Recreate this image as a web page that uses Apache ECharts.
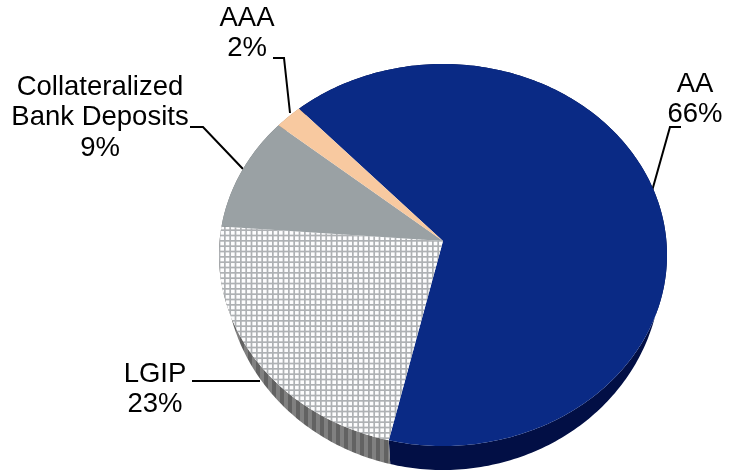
<!DOCTYPE html>
<html>
<head>
<meta charset="utf-8">
<style>
  html, body { margin: 0; padding: 0; background: #fff; }
  #chart { width: 739px; height: 472px; }
</style>
</head>
<body>
<div id="chart"></div>
<script src="https://cdn.jsdelivr.net/npm/echarts@6/dist/echarts.min.js"></script>
<script>
// clockwise from the AA slice
const categories = ['AA', 'LGIP', 'Collateralized Bank Deposits', 'AAA']
const percents = [66, 23, 9, 2] // printed labels
const visibleShare = [65, 23.5, 9.5, 2] // share of the rim each slice takes up in the picture
const faceColors = ['#0a2a85', null, '#9aa1a4', '#f8c9a0']
const wallColors = ['#020f45', null, '#6c7072', '#b08c70']

// pie geometry (tilted disc, the apex sits above the ellipse centre)
const startAngle = -40
const face = { cx: 443, cy: 255, rx: 224, ry: 191 }
const base = { cx: 443, cy: 270, rx: 218, ry: 200 }
const apex = [443, 241]

function rimPoint(e, deg) {
  const t = deg * Math.PI / 180
  return [e.cx + e.rx * Math.sin(t), e.cy - e.ry * Math.cos(t)]
}

function sliceRange(index) {
  let from = startAngle
  for (let i = 0; i < index; i++) from += visibleShare[i] * 3.6
  return [from, from + visibleShare[index] * 3.6]
}

function rimPoints(e, from, to) {
  const pts = []
  for (let a = from; a <= to; a += 1) pts.push(rimPoint(e, a))
  pts.push(rimPoint(e, to))
  return pts
}

// 方格图案 for the LGIP slice
function gridPattern(line, bg) {
  const c = document.createElement('canvas')
  c.width = 16
  c.height = 16
  const ctx = c.getContext('2d')
  ctx.fillStyle = bg
  ctx.fillRect(0, 0, 16, 16)
  ctx.fillStyle = line
  ;[0, 5.33, 10.67].forEach((p) => {
    ctx.fillRect(p, 0, 1.7, 16)
    ctx.fillRect(0, p, 16, 1.7)
  })
  return { image: c, repeat: 'repeat' }
}

function wallStripes() {
  const c = document.createElement('canvas')
  c.width = 8
  c.height = 4
  const ctx = c.getContext('2d')
  ctx.fillStyle = '#808080'
  ctx.fillRect(0, 0, 8, 4)
  ctx.fillStyle = '#626262'
  ctx.fillRect(0, 0, 4, 4)
  return { image: c, repeat: 'repeat' }
}

const lgipFill = gridPattern('#aeb1b4', '#fdfdfe')
const lgipWall = wallStripes()

function renderWall(params, api) {
  const [from, to] = sliceRange(api.value(0))
  const pts = rimPoints(face, from, to).concat(rimPoints(base, from, to).reverse())
  const i = params.dataIndex
  return {
    type: 'polygon',
    shape: { points: pts },
    style: { fill: wallColors[i] || lgipWall }
  }
}

function renderFace(params, api) {
  const [from, to] = sliceRange(api.value(0))
  const i = params.dataIndex
  return {
    type: 'polygon',
    shape: { points: [apex].concat(rimPoints(face, from, to)) },
    style: { fill: faceColors[i] || lgipFill }
  }
}

const labelFont = '27.5px "Liberation Sans", Arial, sans-serif'

function label(x, y, lines) {
  return {
    type: 'text',
    x: x,
    y: y,
    style: {
      text: lines.join('\n'),
      font: labelFont,
      fill: '#000',
      align: 'center',
      verticalAlign: 'top',
      lineHeight: 30.4
    }
  }
}

function leader(points) {
  return {
    type: 'polyline',
    shape: { points: points },
    style: { stroke: '#000', lineWidth: 2, fill: null }
  }
}

const chart = echarts.init(document.getElementById('chart'), null, { renderer: 'canvas' })
chart.setOption({
  animation: false,
  backgroundColor: '#fff',
  series: [
    {
      type: 'custom',
      coordinateSystem: 'none',
      z: 1,
      renderItem: renderWall,
      data: categories.map((c, i) => [i, visibleShare[i]])
    },
    {
      type: 'custom',
      coordinateSystem: 'none',
      z: 2,
      renderItem: renderFace,
      data: categories.map((c, i) => [i, visibleShare[i]])
    }
  ],
  graphic: [
    label(695, 69, [categories[0], percents[0] + '%']),
    label(247, 3, [categories[3], percents[3] + '%']),
    label(100, 72, ['Collateralized', 'Bank Deposits', percents[2] + '%']),
    label(155, 359, [categories[1], percents[1] + '%']),
    leader([[681, 127], [670, 127], [652, 191]]),
    leader([[273, 58], [284, 58], [290, 113]]),
    leader([[190, 127], [203, 127], [243, 169]]),
    leader([[192, 381], [260, 381]])
  ]
})
</script>
</body>
</html>
